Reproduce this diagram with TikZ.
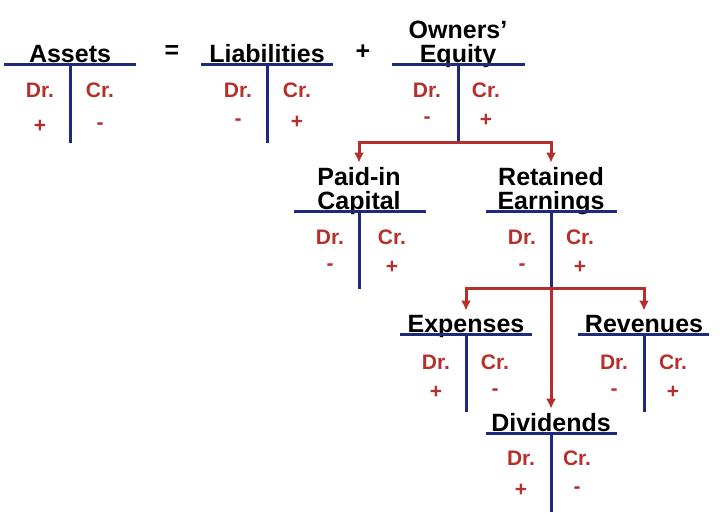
\documentclass[tikz,border=0pt]{standalone}
\usepackage{fontspec}
\setmainfont{Liberation Sans}
\usepackage{tikz}
\usetikzlibrary{arrows.meta,calc}
\definecolor{tblue}{HTML}{1F2A7C}
\definecolor{tred}{HTML}{B5302C}

\begin{document}
\begin{tikzpicture}[
    x=1pt, y=-1pt,
    ttitle/.style={anchor=base, inner sep=0pt, align=center,
                   font=\fontsize{25}{24}\selectfont\bfseries},
    drcr/.style={text=tred, inner sep=0pt, font=\fontsize{21}{24}\selectfont\bfseries},
    sgn/.style={text=tred, inner sep=0pt, font=\fontsize{21}{24}\selectfont\bfseries},
    op/.style={inner sep=0pt, font=\fontsize{25}{30}\selectfont\bfseries},
    tline/.style={draw=tblue, line width=3pt},
    flow/.style={draw=tred, line width=3pt, -{Latex[length=10pt,width=10pt]},
                 shorten >=4pt}
]
\useasboundingbox (0,0) rectangle (720,512);

% ── Assets ────────────────────────────────────────────────────────────────
\coordinate (as) at (70,64);
\node[ttitle] (as-t) at ($(as)+(0,-2)$) {Assets};
\draw[tline] ($(as)+(-66,0)$) -- ($(as)+(66,0)$);
\draw[tline] (as) -- ++(0,79) coordinate (as-b);
\node[drcr] (as-dr) at ($(as)+(-30,26)$) {Dr.};
\node[drcr] (as-cr) at ($(as)+(30,26)$) {Cr.};
\node[sgn] (as-ds) at ($(as)+(-30,62)$) {+};
\node[sgn] (as-cs) at ($(as)+(30,62)$) {-};

% ── = and + ───────────────────────────────────────────────────────────────
\node[op] (eq) at (172,52) {=};
\node[op] (plus) at (363,52) {+};

% ── Liabilities ───────────────────────────────────────────────────────────
\coordinate (li) at (267,64);
\node[ttitle] (li-t) at ($(li)+(0,-2)$) {Liabilities};
\draw[tline] ($(li)+(-66,0)$) -- ($(li)+(66,0)$);
\draw[tline] (li) -- ++(0,79) coordinate (li-b);
\node[drcr] (li-dr) at ($(li)+(-29,26)$) {Dr.};
\node[drcr] (li-cr) at ($(li)+(30,26)$) {Cr.};
\node[sgn] (li-ds) at ($(li)+(-29,58)$) {-};
\node[sgn] (li-cs) at ($(li)+(30,58)$) {+};

% ── Owners' Equity ────────────────────────────────────────────────────────
\coordinate (oe) at (458,64);
\node[ttitle] (oe-t) at ($(oe)+(0,-2)$) {Owners’\\Equity};
\draw[tline] ($(oe)+(-66,0)$) -- ($(oe)+(67,0)$);
\draw[tline] (oe) -- ++(0,78) coordinate (oe-b);
\node[drcr] (oe-dr) at ($(oe)+(-31,26)$) {Dr.};
\node[drcr] (oe-cr) at ($(oe)+(28,26)$) {Cr.};
\node[sgn] (oe-ds) at ($(oe)+(-31,56)$) {-};
\node[sgn] (oe-cs) at ($(oe)+(28,56)$) {+};

% ── Paid-in Capital ───────────────────────────────────────────────────────
\coordinate (pic) at (359,211);
\node[ttitle] (pic-t) at ($(pic)+(0,-2)$) {Paid-in\\Capital};
\draw[tline] ($(pic)+(-65,0)$) -- ($(pic)+(67,0)$);
\draw[tline] (pic) -- ++(0,78) coordinate (pic-b);
\node[drcr] (pic-dr) at ($(pic)+(-29,26)$) {Dr.};
\node[drcr] (pic-cr) at ($(pic)+(33,26)$) {Cr.};
\node[sgn] (pic-ds) at ($(pic)+(-29,56)$) {-};
\node[sgn] (pic-cs) at ($(pic)+(33,56)$) {+};

% ── Retained Earnings ─────────────────────────────────────────────────────
\coordinate (re) at (551,211);
\node[ttitle] (re-t) at ($(re)+(0,-2)$) {Retained\\Earnings};
\draw[tline] ($(re)+(-65,0)$) -- ($(re)+(66,0)$);
\draw[tline] (re) -- ++(0,77) coordinate (re-b);
\node[drcr] (re-dr) at ($(re)+(-29,26)$) {Dr.};
\node[drcr] (re-cr) at ($(re)+(29,26)$) {Cr.};
\node[sgn] (re-ds) at ($(re)+(-29,56)$) {-};
\node[sgn] (re-cs) at ($(re)+(29,56)$) {+};

% ── Expenses ──────────────────────────────────────────────────────────────
\coordinate (ex) at (466,334);
\node[ttitle] (ex-t) at ($(ex)+(0,-2)$) {Expenses};
\draw[tline] ($(ex)+(-66,0)$) -- ($(ex)+(66,0)$);
\draw[tline] (ex) -- ++(0,78) coordinate (ex-b);
\node[drcr] (ex-dr) at ($(ex)+(-30,28)$) {Dr.};
\node[drcr] (ex-cr) at ($(ex)+(29,28)$) {Cr.};
\node[sgn] (ex-ds) at ($(ex)+(-30,58)$) {+};
\node[sgn] (ex-cs) at ($(ex)+(29,58)$) {-};

% ── Revenues ──────────────────────────────────────────────────────────────
\coordinate (rv) at (644,334);
\node[ttitle] (rv-t) at ($(rv)+(0,-2)$) {Revenues};
\draw[tline] ($(rv)+(-66,0)$) -- ($(rv)+(65,0)$);
\draw[tline] (rv) -- ++(0,78) coordinate (rv-b);
\node[drcr] (rv-dr) at ($(rv)+(-30,28)$) {Dr.};
\node[drcr] (rv-cr) at ($(rv)+(29,28)$) {Cr.};
\node[sgn] (rv-ds) at ($(rv)+(-30,58)$) {-};
\node[sgn] (rv-cs) at ($(rv)+(29,58)$) {+};

% ── Dividends ─────────────────────────────────────────────────────────────
\coordinate (dv) at (551,433);
\node[ttitle] (dv-t) at ($(dv)+(0,-2)$) {Dividends};
\draw[tline] ($(dv)+(-65,0)$) -- ($(dv)+(66,0)$);
\draw[tline] (dv) -- ++(0,79) coordinate (dv-b);
\node[drcr] (dv-dr) at ($(dv)+(-30,25)$) {Dr.};
\node[drcr] (dv-cr) at ($(dv)+(26,25)$) {Cr.};
\node[sgn] (dv-ds) at ($(dv)+(-30,57)$) {+};
\node[sgn] (dv-cs) at ($(dv)+(26,57)$) {-};

% ── Owners' Equity → Paid-in Capital, Retained Earnings ──────────────────
\draw[flow] (oe-b) -| (pic-t.north);
\draw[flow] (oe-b) -| (re-t.north);

% ── Retained Earnings → Expenses, Revenues, Dividends ────────────────────
\draw[flow] (re-b) -| (ex-t.north);
\draw[flow] (re-b) -| (rv-t.north);
\draw[flow] (re-b) -- (dv-t.north);

\end{tikzpicture}
\end{document}
